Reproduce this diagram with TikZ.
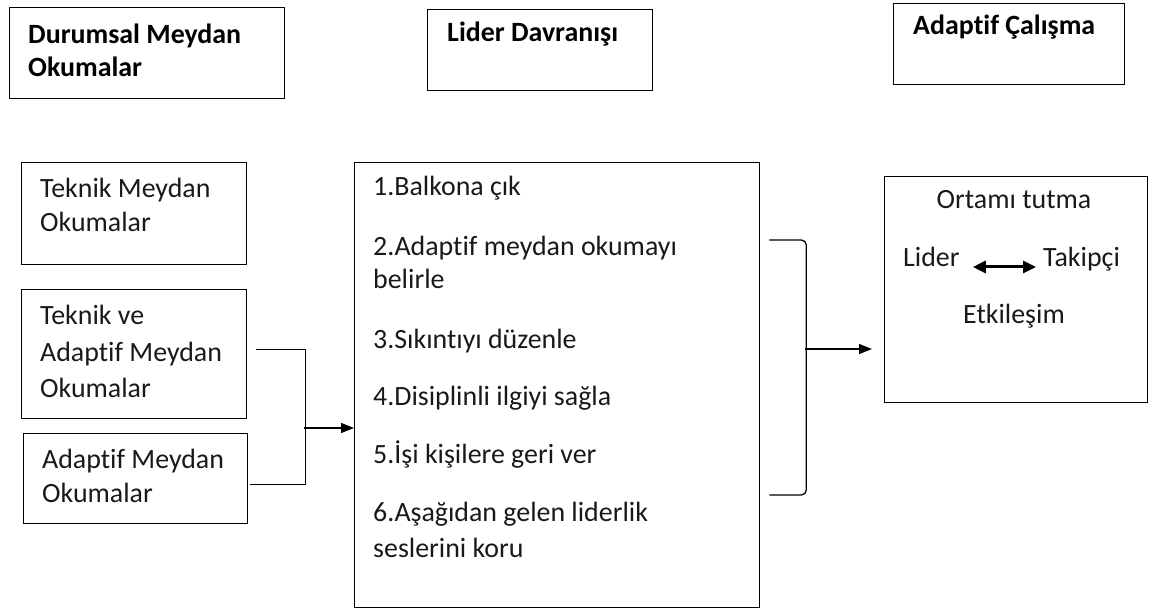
\documentclass[tikz,border=0pt]{standalone}
\usepackage{fontspec}
\setmainfont{Carlito}[Ligatures=NoCommon]
\usetikzlibrary{arrows.meta}
\begin{document}
\begin{tikzpicture}[x=1bp,y=-1bp,
  box/.style={draw, line width=1.3bp, rectangle, inner sep=0pt, anchor=north west},
  txt/.style={anchor=base west, inner sep=0pt, text=black!90, font=\fontsize{28}{34}\selectfont},
  ctxt/.style={txt, anchor=base},
  head/.style={anchor=base west, inner sep=0pt, font=\fontsize{28}{34}\selectfont\bfseries},
  conn/.style={line width=1.3bp},
  arr/.style={conn, -{Triangle[length=13bp,width=10bp]}},
  dbl/.style={line width=3bp, {Triangle[length=13bp,width=12bp]}-{Triangle[length=13bp,width=12bp]}}]
\useasboundingbox (0,0) rectangle (1158,612);

% column headers
\node[box, minimum width=275bp, minimum height=91bp] (durum) at (9,7) {};
\node[head] (durumA) at (28,44) {Durumsal Meydan};
\node[head] (durumB) at (28,77) {Okumalar};

\node[box, minimum width=225bp, minimum height=81bp] (davr) at (427,9) {};
\node[head] (davrA) at (447,42) {Lider Davranışı};

\node[box, minimum width=231bp, minimum height=81bp] (calis) at (893,3) {};
\node[head] (calisA) at (913,35) {Adaptif Çalışma};

% left column: kinds of challenges
\node[box, minimum width=225bp, minimum height=102bp] (tek) at (21,162) {};
\node[txt] (tekA) at (40,198) {Teknik Meydan};
\node[txt] (tekB) at (40,232) {Okumalar};

\node[box, minimum width=225bp, minimum height=129bp] (tekad) at (21,289) {};
\node[txt] (tekadA) at (40,325) {Teknik ve};
\node[txt] (tekadB) at (40,361) {Adaptif Meydan};
\node[txt] (tekadC) at (40,397) {Okumalar};

\node[box, minimum width=224bp, minimum height=90bp] (adap) at (23,433) {};
\node[txt] (adapA) at (42,468) {Adaptif Meydan};
\node[txt] (adapB) at (42,502) {Okumalar};

% middle column: leader behaviours
\node[box, minimum width=405bp, minimum height=445bp] (mid) at (354,162) {};
\node[txt] (m1) at (373,196) {1.Balkona çık};
\node[txt] (m2a) at (373,256) {2.Adaptif meydan okumayı};
\node[txt] (m2b) at (373,289) {belirle};
\node[txt] (m3) at (373,348) {3.Sıkıntıyı düzenle};
\node[txt] (m4) at (373,405) {4.Disiplinli ilgiyi sağla};
\node[txt] (m5) at (373,463) {5.İşi kişilere geri ver};
\node[txt] (m6a) at (373,521) {6.Aşağıdan gelen liderlik};
\node[txt] (m6b) at (373,557) {seslerini koru};

% right column: adaptive work
\node[box, minimum width=263bp, minimum height=226bp] (ort) at (884,176) {};
\node[ctxt] (ortA) at (1014,209) {Ortamı tutma};
\node[txt] (lider) at (903,267) {Lider};
\node[txt] (takip) at (1043,267) {Takipçi};
\node[ctxt] (etk) at (1014,324) {Etkileşim};
\draw[dbl, shorten <=13bp, shorten >=7bp] (lider.base east) -- (takip.base west);

% left junction into the middle box
\coordinate (eOut) at ([xshift=9bp,yshift=4.5bp]tekad.east);
\coordinate (fOut) at ([xshift=2bp,yshift=-6bp]adap.east);
\coordinate (jMid) at (304,428);
\draw[conn] (eOut) -- ++(49,0) |- (fOut);
\draw[arr] (jMid) -- (jMid -| mid.west);

% right bracket into the adaptive work box
\coordinate (bTop) at ([xshift=9bp]mid.east |- 0,240);
\coordinate (bBot) at ([xshift=9bp]mid.east |- 0,495);
\coordinate (bMid) at (805,349);
\draw[conn, rounded corners=5bp] (bTop) -- ++(37,0) -- ++(0,255) -- (bBot);
\draw[arr, shorten >=12bp] (bMid) -- (bMid -| ort.west);
\end{tikzpicture}
\end{document}
